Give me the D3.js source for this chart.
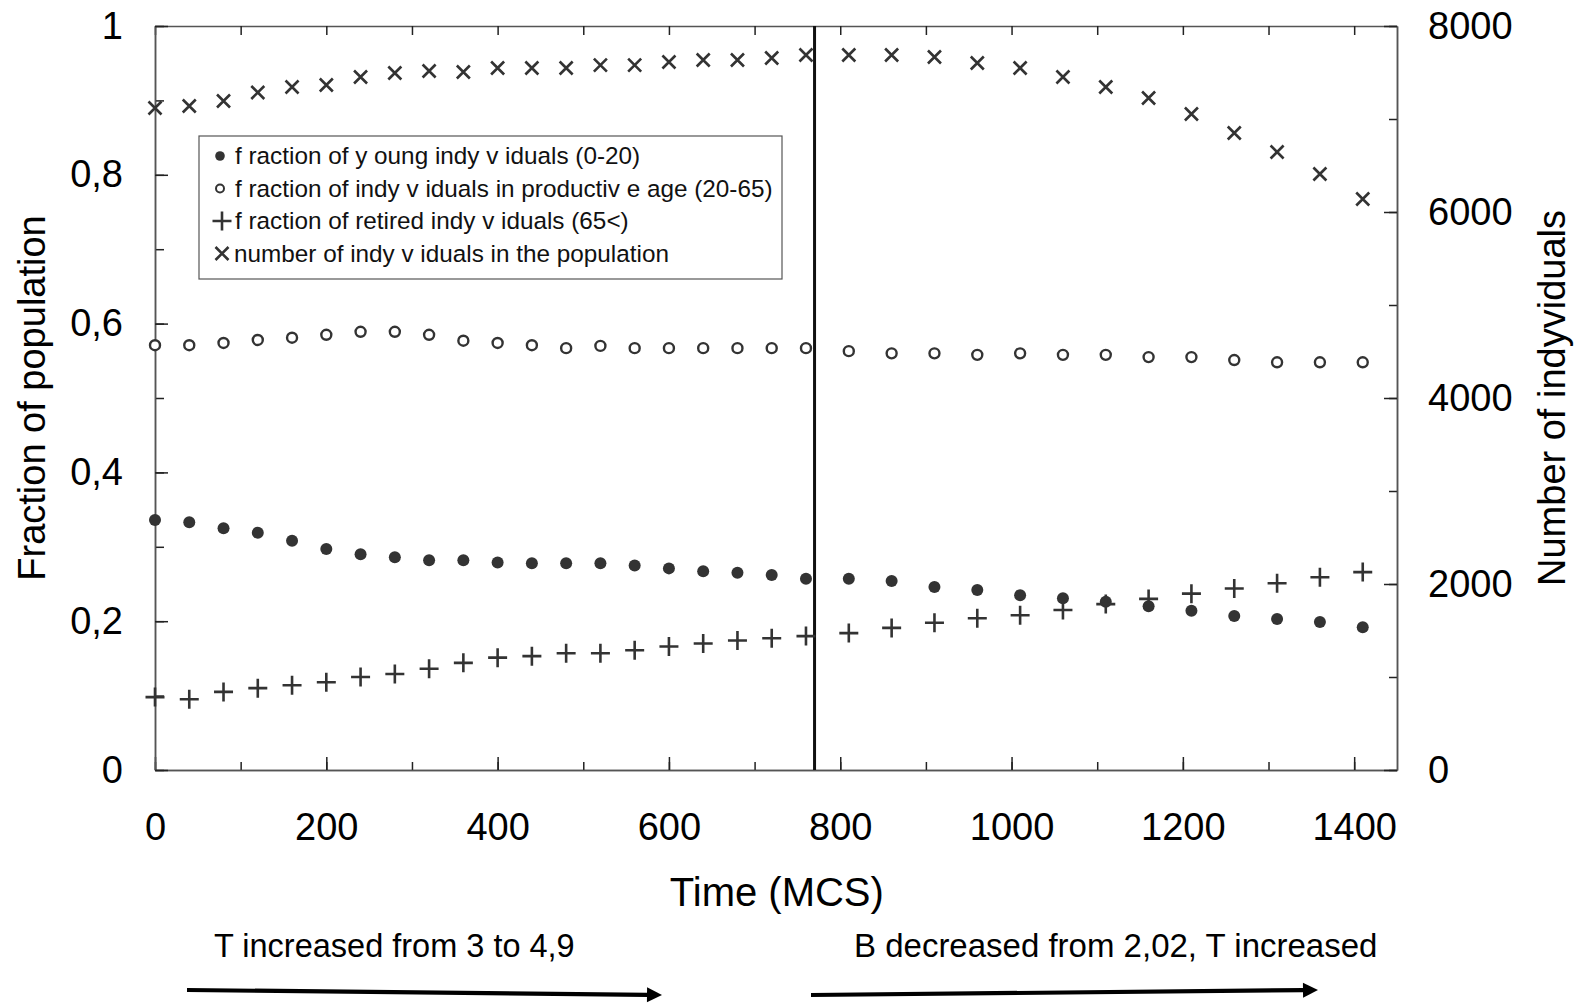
<!DOCTYPE html>
<html>
<head>
<meta charset="utf-8">
<script src="https://cdn.jsdelivr.net/npm/d3@7"></script>
<style>
  body { margin: 0; background: #fff; }
  svg { font-family: "Liberation Sans", Arial, sans-serif; }
</style>
</head>
<body>
<svg id="chart" width="1576" height="1003"></svg>
<script>
// time points (MCS), before and after the change of parameters
var timesA = [0, 40, 80, 120, 160, 200, 240, 280, 320, 360, 400, 440, 480, 520, 560, 600, 640, 680, 720, 760];
var timesB = [810, 860, 910, 960, 1010, 1060, 1110, 1160, 1210, 1260, 1310, 1360, 1410];
var switchTime = 770;

// fractions (left axis)
var youngA = [0.336, 0.333, 0.325, 0.319, 0.308, 0.297, 0.290, 0.286, 0.282, 0.282, 0.279, 0.278, 0.278, 0.278, 0.275, 0.271, 0.267, 0.265, 0.262, 0.257];
var youngB = [0.257, 0.254, 0.246, 0.242, 0.235, 0.231, 0.226, 0.220, 0.214, 0.207, 0.203, 0.199, 0.192];
var productiveA = [0.571, 0.571, 0.574, 0.578, 0.581, 0.585, 0.589, 0.589, 0.585, 0.577, 0.574, 0.571, 0.567, 0.570, 0.567, 0.567, 0.567, 0.567, 0.567, 0.567];
var productiveB = [0.563, 0.560, 0.560, 0.558, 0.560, 0.558, 0.558, 0.555, 0.555, 0.551, 0.548, 0.548, 0.548];
var retiredA = [0.098, 0.095, 0.105, 0.110, 0.114, 0.118, 0.125, 0.129, 0.136, 0.144, 0.151, 0.153, 0.157, 0.157, 0.161, 0.166, 0.170, 0.174, 0.177, 0.180];
var retiredB = [0.184, 0.191, 0.198, 0.204, 0.208, 0.215, 0.223, 0.230, 0.237, 0.244, 0.251, 0.259, 0.266];

// number of individuals (right axis)
var numberA = [7118, 7140, 7194, 7285, 7344, 7366, 7452, 7495, 7516, 7505, 7548, 7548, 7548, 7580, 7580, 7613, 7634, 7634, 7656, 7688];
var numberB = [7688, 7688, 7667, 7602, 7548, 7452, 7344, 7226, 7054, 6849, 6645, 6409, 6140];

var xTicks = [0, 200, 400, 600, 800, 1000, 1200, 1400];
var yTicks = [0, 0.2, 0.4, 0.6, 0.8, 1];
var yTickLabels = ["0", "0,2", "0,4", "0,6", "0,8", "1"];
var y2Ticks = [0, 2000, 4000, 6000, 8000];

var legendLabels = [
  "f raction of  y oung indy v iduals (0-20)",
  "f raction of  indy v iduals in productiv e age (20-65)",
  "f raction of  retired indy v iduals (65<)",
  "number of  indy v iduals in the population"
];
var notes = ["T increased from 3 to 4,9", "B decreased from 2,02, T increased"];

var svg = d3.select("#chart");
var mLeft = 155, mRight = 1397, mTop = 26, mBottom = 770;
var ink = "#333";
var axisCol = "#555";

var x = d3.scaleLinear().domain([0, 1450]).range([mLeft, mRight]);
var y = d3.scaleLinear().domain([0, 1]).range([mBottom, mTop]);
var y2 = d3.scaleLinear().domain([0, 8000]).range([mBottom, mTop]);

function styleAxis(g) {
  g.select(".domain").attr("stroke", axisCol).attr("stroke-width", 1.5);
  g.selectAll(".tick line").attr("stroke", "#222").attr("stroke-width", 1.5);
  g.selectAll("text").attr("fill", "#000").style("font-size", "38px")
    .style("font-family", "Liberation Sans, Arial, sans-serif");
}

// minor ticks
var minorX = d3.range(0, 1401, 100);
svg.append("g").attr("transform", "translate(0," + mBottom + ")")
  .call(d3.axisBottom(x).tickValues(minorX).tickSizeInner(-8).tickSizeOuter(0).tickFormat(""))
  .call(styleAxis);
svg.append("g").attr("transform", "translate(0," + mTop + ")")
  .call(d3.axisTop(x).tickValues(minorX).tickSizeInner(-9).tickSizeOuter(0).tickFormat(""))
  .call(styleAxis);
svg.append("g").attr("transform", "translate(" + mLeft + ",0)")
  .call(d3.axisLeft(y).tickValues(d3.range(0, 1.01, 0.1)).tickSizeInner(-9).tickSizeOuter(0).tickFormat(""))
  .call(styleAxis);
svg.append("g").attr("transform", "translate(" + mRight + ",0)")
  .call(d3.axisRight(y2).tickValues(d3.range(0, 8001, 1000)).tickSizeInner(-8).tickSizeOuter(0).tickFormat(""))
  .call(styleAxis);

// major ticks with labels
svg.append("g").attr("transform", "translate(0," + mBottom + ")")
  .call(d3.axisBottom(x).tickValues(xTicks).tickSizeInner(-13).tickSizeOuter(0).tickPadding(43)
    .tickFormat(d3.format("d")))
  .call(styleAxis);
svg.append("g").attr("transform", "translate(" + mLeft + ",0)")
  .call(d3.axisLeft(y).tickValues(yTicks).tickSizeInner(-13).tickSizeOuter(0).tickPadding(32)
    .tickFormat(function(d, i) { return yTickLabels[i]; }))
  .call(styleAxis);
svg.append("g").attr("transform", "translate(" + mRight + ",0)")
  .call(d3.axisRight(y2).tickValues(y2Ticks).tickSizeInner(-13).tickSizeOuter(0).tickPadding(31)
    .tickFormat(d3.format("d")))
  .call(styleAxis);

// axis titles
svg.append("text").attr("x", x(726)).attr("y", 906).attr("text-anchor", "middle")
  .style("font-size", "40px").text("Time (MCS)");
svg.append("text").attr("transform", "translate(45," + ((mTop + mBottom) / 2) + ") rotate(-90)")
  .attr("text-anchor", "middle").style("font-size", "38px").text("Fraction of population");
svg.append("text").attr("transform", "translate(1565," + ((mTop + mBottom) / 2) + ") rotate(-90)")
  .attr("text-anchor", "middle").style("font-size", "38px").text("Number of indyviduals");

// switch line
svg.append("line")
  .attr("x1", x(switchTime)).attr("x2", x(switchTime))
  .attr("y1", mTop).attr("y2", mBottom)
  .attr("stroke", "#111").attr("stroke-width", 3);

// marker drawers
function dot(g, cx, cy) {
  g.append("circle").attr("cx", cx).attr("cy", cy).attr("r", 6).attr("fill", ink);
}
function ring(g, cx, cy) {
  g.append("circle").attr("cx", cx).attr("cy", cy).attr("r", 5)
    .attr("fill", "#fff").attr("stroke", ink).attr("stroke-width", 2.4);
}
function plus(g, cx, cy) {
  var s = 9.5;
  g.append("path").attr("d", "M" + (cx - s) + "," + cy + "H" + (cx + s) + "M" + cx + "," + (cy - s) + "V" + (cy + s))
    .attr("stroke", ink).attr("stroke-width", 2.6).attr("fill", "none");
}
function cross(g, cx, cy) {
  var s = 6.5;
  g.append("path").attr("d", "M" + (cx - s) + "," + (cy - s) + "L" + (cx + s) + "," + (cy + s) +
      "M" + (cx - s) + "," + (cy + s) + "L" + (cx + s) + "," + (cy - s))
    .attr("stroke", ink).attr("stroke-width", 2.6).attr("fill", "none");
}

var times = timesA.concat(timesB);
var series = [
  { vals: productiveA.concat(productiveB), scale: y, draw: ring },
  { vals: youngA.concat(youngB), scale: y, draw: dot },
  { vals: retiredA.concat(retiredB), scale: y, draw: plus },
  { vals: numberA.concat(numberB), scale: y2, draw: cross }
];
var marks = svg.append("g");
series.forEach(function(s) {
  times.forEach(function(t, i) {
    s.draw(marks, x(t), s.scale(s.vals[i]));
  });
});

// legend
var lg = svg.append("g");
lg.append("rect").attr("x", 199).attr("y", 136).attr("width", 583).attr("height", 143)
  .attr("fill", "#fff").attr("stroke", axisCol).attr("stroke-width", 1.2);
var legendDraw = [dot, ring, plus, cross];
legendLabels.forEach(function(lab, i) {
  var cy = 156 + i * 32.5;
  if (i === 0) { lg.append("circle").attr("cx", 220).attr("cy", cy).attr("r", 4.8).attr("fill", ink); }
  else if (i === 1) { lg.append("circle").attr("cx", 220).attr("cy", cy).attr("r", 4).attr("fill", "#fff").attr("stroke", ink).attr("stroke-width", 2); }
  else legendDraw[i](lg, 222, cy);
  lg.append("text").attr("x", i === 3 ? 234 : 235).attr("y", cy + 8)
    .style("font-size", "24.3px").attr("fill", "#111").text(lab);
});

// annotations below axis
svg.append("text").attr("x", 214).attr("y", 957).style("font-size", "32.5px").text(notes[0]);
svg.append("text").attr("x", 854).attr("y", 957).style("font-size", "33px").text(notes[1]);

function arrow(x1, y1, x2, y2) {
  var a = Math.atan2(y2 - y1, x2 - x1), L = 15, W = 7.5;
  var bx = x2 - L * Math.cos(a), by = y2 - L * Math.sin(a);
  svg.append("line").attr("x1", x1).attr("y1", y1).attr("x2", bx).attr("y2", by)
    .attr("stroke", "#000").attr("stroke-width", 4.2);
  svg.append("path").attr("d", "M" + x2 + "," + y2 +
      "L" + (bx + W * Math.sin(a)) + "," + (by - W * Math.cos(a)) +
      "L" + (bx - W * Math.sin(a)) + "," + (by + W * Math.cos(a)) + "Z")
    .attr("fill", "#000");
}
arrow(187, 990, 662, 995);
arrow(811, 995, 1318, 990);
</script>
</body>
</html>
